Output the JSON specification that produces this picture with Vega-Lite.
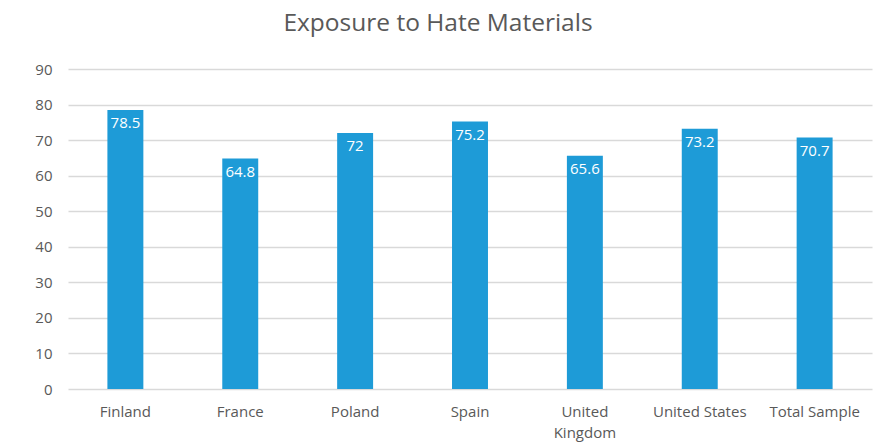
{
  "$schema": "https://vega.github.io/schema/vega-lite/v6.json",
  "autosize": {"type": "none"},
  "width": 804,
  "height": 320,
  "padding": {"left": 68, "top": 69, "right": 21, "bottom": 56},
  "background": "white",
  "title": {
    "text": "Exposure to Hate Materials",
    "font": "Open Sans",
    "fontSize": 24.5,
    "fontWeight": "normal",
    "color": "#595959",
    "anchor": "middle",
    "dx": -32,
    "baseline": "alphabetic",
    "offset": 7
  },
  "data": {
    "values": [
      {"country": "Finland", "value": 78.5},
      {"country": "France", "value": 64.8},
      {"country": "Poland", "value": 72},
      {"country": "Spain", "value": 75.2},
      {"country": "United Kingdom", "value": 65.6},
      {"country": "United States", "value": 73.2},
      {"country": "Total Sample", "value": 70.7}
    ]
  },
  "config": {
    "view": {"stroke": null},
    "font": "Open Sans"
  },
  "encoding": {
    "x": {
      "field": "country",
      "type": "nominal",
      "sort": null,
      "scale": {"paddingInner": 0.687, "paddingOuter": 0.343},
      "axis": {
        "title": null,
        "labelAngle": 0,
        "labelFont": "Open Sans",
        "labelFontSize": 15,
        "labelColor": "#595959",
        "labelPadding": 15,
        "labelLineHeight": 21,
        "ticks": false,
        "domain": false,
        "labelExpr": "datum.label == 'United Kingdom' ? ['United', 'Kingdom'] : datum.label"
      }
    },
    "y": {
      "field": "value",
      "type": "quantitative",
      "scale": {"domain": [0, 90], "nice": false},
      "axis": {
        "title": null,
        "values": [0, 10, 20, 30, 40, 50, 60, 70, 80, 90],
        "labelOverlap": false,
        "labelFont": "Open Sans",
        "labelFontSize": 15,
        "labelColor": "#595959",
        "labelPadding": 16,
        "ticks": false,
        "domain": false,
        "gridColor": "#d9d9d9",
        "gridWidth": 1.5
      }
    }
  },
  "layer": [
    {"mark": {"type": "bar", "color": "#1e9bd7"}},
    {
      "mark": {"type": "text", "color": "white", "fontSize": 15, "font": "Open Sans", "baseline": "top", "dy": 6},
      "encoding": {"text": {"field": "value", "type": "quantitative"}}
    }
  ]
}
